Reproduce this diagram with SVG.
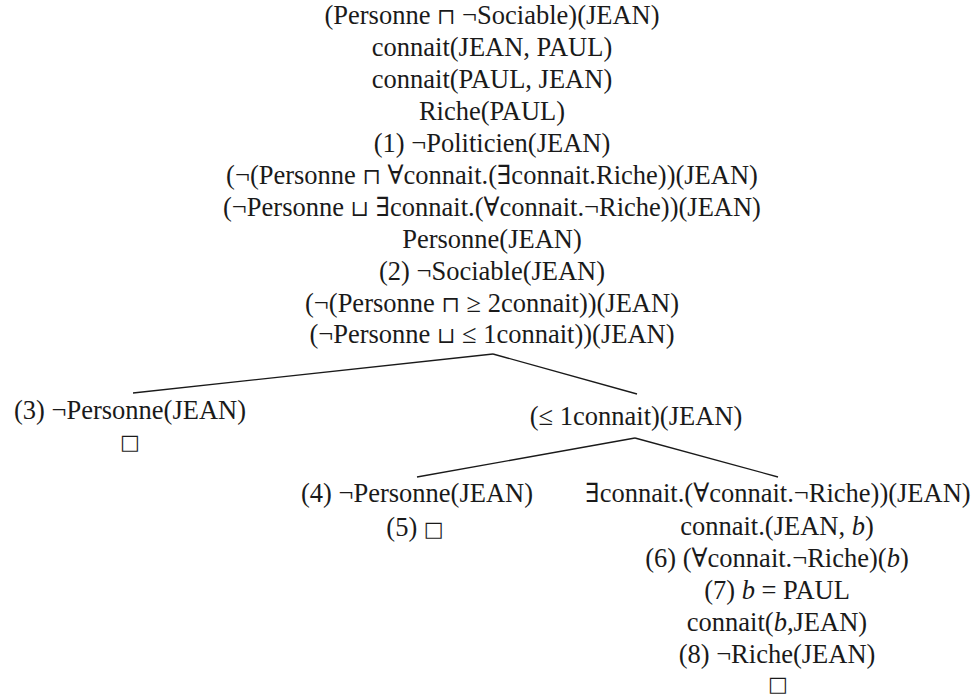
<svg xmlns="http://www.w3.org/2000/svg" width="978" height="696" viewBox="0 0 978 696">
<style>
text{font-family:'Liberation Serif','Times New Roman','DejaVu Serif',serif;font-size:26.5px;fill:#1a1a1a;text-anchor:middle}
.i{font-style:italic}
.op{font-size:22px}
.bx{font-family:'DejaVu Sans',sans-serif;font-size:21px;fill:#1a1a1a}
.c line{stroke:#1a1a1a;stroke-width:1.3}
</style>
<rect width="978" height="696" fill="#fff"/>
<g id="root">
<text x="492" y="24">(Personne <tspan class="op">⊓</tspan> ¬Sociable)(JEAN)</text>
<text x="492" y="56">connait(JEAN, PAUL)</text>
<text x="492" y="88">connait(PAUL, JEAN)</text>
<text x="492" y="120">Riche(PAUL)</text>
<text x="492" y="152">(1) ¬Politicien(JEAN)</text>
<text x="492" y="184">(¬(Personne <tspan class="op">⊓</tspan> ∀connait.(∃connait.Riche))(JEAN)</text>
<text x="492" y="216">(¬Personne <tspan class="op">⊔</tspan> ∃connait.(∀connait.¬Riche))(JEAN)</text>
<text x="492" y="248">Personne(JEAN)</text>
<text x="492" y="280">(2) ¬Sociable(JEAN)</text>
<text x="492" y="312">(¬(Personne <tspan class="op">⊓</tspan> ≥ 2connait))(JEAN)</text>
<text x="492" y="343">(¬Personne <tspan class="op">⊔</tspan> ≤ 1connait))(JEAN)</text>
</g>
<g id="branch3">
<text x="130" y="419">(3) ¬Personne(JEAN)</text>
<text class="bx" x="130" y="449">□</text>
</g>
<g id="branchLe1">
<text x="636" y="425">(≤ 1connait)(JEAN)</text>
</g>
<g id="branch4">
<text x="417" y="502">(4) ¬Personne(JEAN)</text>
<text x="415" y="536">(5) <tspan class="bx">□</tspan></text>
</g>
<g id="branchExists">
<text x="778" y="502">∃connait.(∀connait.¬Riche))(JEAN)</text>
<text x="777" y="535">connait.(JEAN, <tspan class="i">b</tspan>)</text>
<text x="777" y="567">(6) (∀connait.¬Riche)(<tspan class="i">b</tspan>)</text>
<text x="777" y="599">(7) <tspan class="i">b</tspan> = PAUL</text>
<text x="777" y="631">connait(<tspan class="i">b</tspan>,JEAN)</text>
<text x="777" y="663">(8) ¬Riche(JEAN)</text>
<text class="bx" x="778" y="691">□</text>
</g>
<g class="c" id="connectors">
<line x1="493" y1="354" x2="133" y2="393"/>
<line x1="493" y1="354" x2="637" y2="394"/>
<line x1="635" y1="438" x2="417" y2="477"/>
<line x1="635" y1="438" x2="778" y2="477"/>
</g>
</svg>
